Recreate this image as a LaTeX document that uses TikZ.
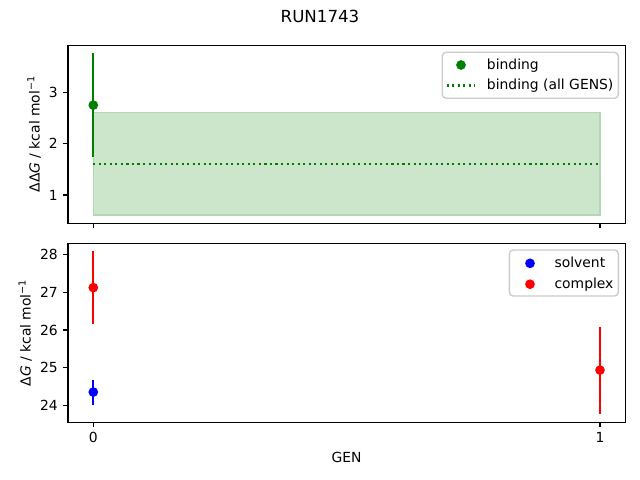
\documentclass[tikz,border=0pt]{standalone}
\usepackage{fontspec}
\setmainfont{DejaVu Sans}
\usepackage{xcolor}
\usepackage{tikz}
\definecolor{mplgreen}{RGB}{0,128,0}
\definecolor{mplblue}{RGB}{0,0,255}
\definecolor{mplred}{RGB}{255,0,0}
\definecolor{bandfill}{RGB}{204,230,204}
\definecolor{bandedge}{RGB}{178,215,178}
\definecolor{legendedge}{RGB}{204,204,204}
\tikzset{
  axisframe/.style={line width=0.8pt},
  tickmark/.style={line width=0.8pt},
  errbar/.style={line width=1.5pt},
  ticklabel/.style={inner sep=0pt, font=\fontsize{10}{12}\selectfont},
  legendtext/.style={inner sep=0pt, anchor=base west, font=\fontsize{10}{12}\selectfont},
  legendbox/.style={draw=legendedge, fill=white, fill opacity=0.8, line width=1pt, rounded corners=2.8pt},
}

\begin{document}
\begin{tikzpicture}[x=0.72pt,y=-0.72pt]
\fill[white] (0,0) rectangle (640,480);
\useasboundingbox (0,0) rectangle (640,480);
\node[anchor=base, inner sep=0pt, font=\fontsize{12}{14}\selectfont] (title) at (320,22.3) {RUN1743};

\begin{scope}[shift={(93.3,246.35)}, x=364.82pt, y=36.97pt]
\fill[bandfill, draw=bandedge, line width=1pt] (0,0.61) rectangle (1,2.61);
\draw[mplgreen, line width=1.5pt, dash pattern=on 1.5pt off 2.475pt] (0,1.61) -- (1,1.61);
\draw[mplgreen, errbar] (0,1.74) -- (0,3.76);
\fill[mplgreen] (0,2.75) circle[radius=3.5pt];
\draw[axisframe] (-0.05,0.4525) rectangle (1.05,3.9175);
\foreach \v in {1,2,3}
  \draw[tickmark] (-0.05,\v) -- ++(-3.5pt,0) node[ticklabel, anchor=east, xshift=-3.5pt] (ytop\v) {\v};
\foreach \g in {0,1}
  \draw[tickmark] (\g,0.4525) -- ++(0,-3.5pt);
\end{scope}
\node[rotate=90, anchor=base, inner sep=0pt, font=\fontsize{10}{12}\selectfont] (ylabtop) at (39.5,134) {ΔΔ\textit{G} / kcal mol\textsuperscript{−1}};

\draw[legendbox] (442.3,52.3) rectangle (618.3,98.3);
\fill[mplgreen] (461,65) circle[radius=3.5pt];
\node[legendtext] (legbinding) at (486.7,69.3) {binding};
\draw[mplgreen, line width=1.5pt, dash pattern=on 1.5pt off 2.475pt] (446.7,85.5) -- (475,85.5);
\node[legendtext] (legall) at (486.7,89.8) {binding (all GENS)};

\begin{scope}[shift={(93.3,1314.1)}, x=364.82pt, y=27.252pt]
\draw[mplblue, errbar] (0,24.03) -- (0,24.69);
\fill[mplblue] (0,24.36) circle[radius=3.5pt];
\draw[mplred, errbar] (0,26.16) -- (0,28.08);
\fill[mplred] (0,27.12) circle[radius=3.5pt];
\draw[mplred, errbar] (1,23.79) -- (1,26.09);
\fill[mplred] (1,24.94) circle[radius=3.5pt];
\draw[axisframe] (-0.05,23.565) rectangle (1.05,28.29);
\foreach \v in {24,25,26,27,28}
  \draw[tickmark] (-0.05,\v) -- ++(-3.5pt,0) node[ticklabel, anchor=east, xshift=-3.5pt] (ybot\v) {\v};
\foreach \g in {0,1}
  \draw[tickmark] (\g,23.565) -- ++(0,-3.5pt) node[ticklabel, anchor=north, yshift=-3.5pt] (xbot\g) {\g};
\end{scope}
\node[rotate=90, anchor=base, inner sep=0pt, font=\fontsize{10}{12}\selectfont] (ylabbot) at (30.7,332.8) {Δ\textit{G} / kcal mol\textsuperscript{−1}};
\node[anchor=base, inner sep=0pt, font=\fontsize{10}{12}\selectfont] (xlab) at (346.6,462.7) {GEN};

\draw[legendbox] (509.3,250) rectangle (618.3,296);
\fill[mplblue] (530,263.3) circle[radius=3.5pt];
\node[legendtext] (legsolvent) at (554.3,267.3) {solvent};
\fill[mplred] (530,284.2) circle[radius=3.5pt];
\node[legendtext] (legcomplex) at (554.3,288.2) {complex};
\end{tikzpicture}
\end{document}
